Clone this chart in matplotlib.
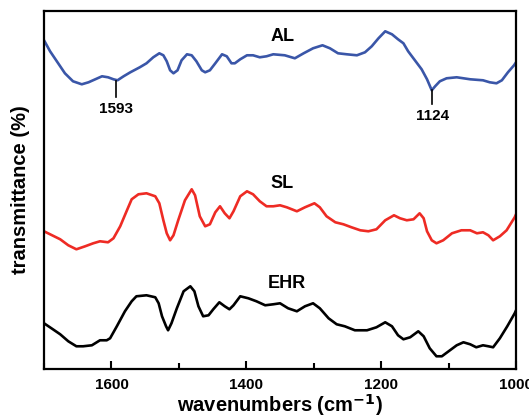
import numpy as np
import matplotlib
matplotlib.use("Agg")
import matplotlib.pyplot as plt
from matplotlib.ticker import MultipleLocator

# FTIR spectra, values (arbitrary transmittance units)
al_wn = [1700, 1691, 1681, 1669, 1657, 1644, 1634, 1624, 1614, 1605, 1597, 1591,
         1582, 1572, 1558, 1548, 1538, 1529, 1523, 1518, 1513, 1508, 1502, 1496,
         1488, 1481, 1474, 1466, 1461, 1454, 1446, 1436, 1429, 1422, 1417, 1409,
         1399, 1390, 1380, 1370, 1360, 1343, 1328, 1315, 1301, 1287, 1276, 1264,
         1251, 1236, 1224, 1214, 1204, 1194, 1184, 1175, 1167, 1160, 1150, 1140,
         1132, 1125, 1120, 1113, 1103, 1088, 1068, 1049, 1039, 1029, 1021, 1012,
         1003, 1000]
al_t = [329, 318, 308, 296, 288, 285, 287, 290, 293, 292, 290, 289,
        293, 297, 302, 306, 312, 316, 314, 308, 299, 296, 299, 309,
        315, 314, 308, 299, 297, 299, 306, 315, 313, 306, 306, 310,
        314, 314, 312, 313, 315, 314, 311, 316, 321, 324, 321, 316,
        315, 314, 317, 323, 331, 338, 335, 330, 326, 318, 309, 300,
        290, 279, 283, 288, 291, 292, 290, 289, 287, 286, 289, 297,
        304, 307]

sl_wn = [1700, 1691, 1676, 1664, 1652, 1639, 1627, 1617, 1605, 1597, 1587, 1577,
         1570, 1560, 1548, 1535, 1529, 1523, 1518, 1513, 1508, 1501, 1491, 1481,
         1476, 1469, 1461, 1454, 1446, 1439, 1432, 1425, 1419, 1409, 1399, 1390,
         1380, 1370, 1360, 1350, 1340, 1325, 1313, 1299, 1291, 1281, 1268, 1256,
         1244, 1231, 1219, 1207, 1194, 1181, 1172, 1162, 1152, 1143, 1137, 1132,
         1125, 1118, 1108, 1095, 1081, 1068, 1058, 1049, 1041, 1034, 1024, 1014,
         1002, 1000]
sl_t = [138, 135, 130, 124, 120, 123, 126, 128, 127, 131, 143, 159,
        170, 175, 176, 173, 166, 149, 136, 129, 134, 149, 169, 180,
        174, 153, 143, 145, 157, 163, 156, 151, 158, 173, 178, 175,
        168, 163, 163, 164, 162, 158, 162, 166, 162, 153, 147, 145,
        142, 139, 138, 140, 149, 154, 151, 149, 150, 156, 151, 138,
        129, 126, 129, 136, 139, 139, 136, 137, 134, 129, 133, 139,
        152, 155]

ehr_wn = [1700, 1689, 1676, 1664, 1652, 1642, 1629, 1617, 1607, 1602, 1592, 1580,
          1570, 1563, 1548, 1535, 1530, 1525, 1519, 1516, 1511, 1503, 1493, 1483,
          1477, 1471, 1464, 1456, 1449, 1440, 1432, 1425, 1419, 1409, 1397, 1385,
          1372, 1360, 1350, 1338, 1325, 1313, 1301, 1291, 1278, 1266, 1254, 1239,
          1221, 1207, 1194, 1184, 1175, 1167, 1157, 1145, 1137, 1128, 1118, 1110,
          1100, 1088, 1078, 1068, 1059, 1049, 1041, 1034, 1024, 1013, 1002, 1000]
ehr_t = [46, 41, 35, 28, 23, 23, 24, 29, 29, 31, 43, 58,
         68, 73, 74, 72, 66, 53, 43, 39, 46, 61, 78, 83,
         78, 63, 53, 54, 60, 67, 63, 60, 64, 73, 71, 68,
         64, 65, 66, 61, 58, 63, 66, 61, 51, 45, 43, 39,
         39, 42, 47, 43, 34, 30, 32, 38, 33, 21, 13, 13,
         18, 24, 27, 25, 22, 24, 23, 22, 31, 43, 56, 59]

peaks = [1593, 1124]

fig = plt.figure(figsize=(5.29, 4.16), dpi=100)
ax = fig.add_axes([0.0832, 0.1123, 0.8923, 0.862])
font = ["Liberation Sans", "DejaVu Sans"]

ax.plot(al_wn, al_t, color="#3a56a8", lw=1.9, solid_joinstyle="round")
ax.plot(sl_wn, sl_t, color="#ee2b24", lw=1.9, solid_joinstyle="round")
ax.plot(ehr_wn, ehr_t, color="black", lw=1.9, solid_joinstyle="round")

ax.text(1347, 333, "AL", ha="center", va="center", fontsize=13, fontweight="bold", family=font)
ax.text(1347, 186, "SL", ha="center", va="center", fontsize=13, fontweight="bold", family=font)
ax.text(1340, 86, "EHR", ha="center", va="center", fontsize=13, fontweight="bold", family=font)

# peak markers on the AL curve
for p, y0, y1, yt in [(peaks[0], 288, 272, 260), (peaks[1], 279, 265, 253)]:
    ax.plot([p, p], [y0, y1], color="black", lw=1.2)
    ax.text(p, yt, str(p), ha="center", va="center", fontsize=11, fontweight="bold", family=font)

ax.set_xlim(1700, 1000)
ax.set_ylim(0, 358.6)
ax.xaxis.set_major_locator(MultipleLocator(200))
ax.xaxis.set_minor_locator(MultipleLocator(100))
ax.tick_params(axis="x", which="major", direction="in", length=6, width=1.5, pad=6)
ax.tick_params(axis="x", which="minor", direction="in", length=4, width=1.5)
ax.set_yticks([])
for lbl in ax.get_xticklabels():
    lbl.set_fontweight("bold")
    lbl.set_fontsize(11)
    lbl.set_family(font)
for s in ax.spines.values():
    s.set_linewidth(1.6)

ax.set_xlabel("wavenumbers (cm$^{\\mathbf{-1}}$)", fontsize=14.5, fontweight="bold", family=font, labelpad=0)
ax.set_ylabel("transmittance (%)", fontsize=14.5, fontweight="bold", family=font, labelpad=10)

fig.savefig("out.png", dpi=100)
